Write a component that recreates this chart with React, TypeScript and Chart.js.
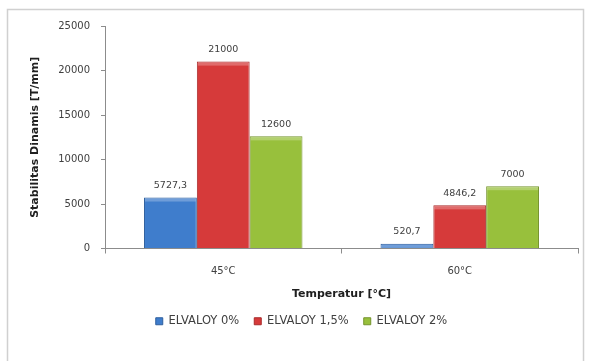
import React, { useEffect, useRef } from "react";
import { Chart, registerables } from "chart.js";

Chart.register(...registerables);

const categories = ["45°C", "60°C"];
const seriesNames = ["ELVALOY 0%", "ELVALOY 1,5%", "ELVALOY 2%"];
const elvaloy0 = [5727.3, 520.7];
const elvaloy15 = [21000, 4846.2];
const elvaloy2 = [12600, 7000];
const yTicks = [0, 5000, 10000, 15000, 20000, 25000];

const fills = ["#3f7dcc", "#d63a3a", "#98c03c"];
const edges = ["#2f5f9e", "#a82a2a", "#74932c"];

const FONT = "'DejaVu Sans', sans-serif";

const fmt = (v: number) => String(v).replace(".", ",");

// Value labels above each bar
const valueLabels = {
  id: "valueLabels",
  afterDatasetsDraw(chart: any) {
    const { ctx } = chart;
    ctx.save();
    ctx.font = `9.5px ${FONT}`;
    ctx.fillStyle = "#404040";
    ctx.textAlign = "center";
    ctx.textBaseline = "middle";
    chart.data.datasets.forEach((ds: any, i: number) => {
      const meta = chart.getDatasetMeta(i);
      meta.data.forEach((bar: any, j: number) => {
        ctx.fillText(fmt(ds.data[j]), bar.x, bar.y - 12);
      });
    });
    ctx.restore();
  },
};

// Light top highlight on the bars
const barShine = {
  id: "barShine",
  afterDatasetsDraw(chart: any) {
    const { ctx } = chart;
    ctx.save();
    chart.data.datasets.forEach((_ds: any, i: number) => {
      const meta = chart.getDatasetMeta(i);
      meta.data.forEach((bar: any) => {
        const w = bar.width;
        const h = bar.base - bar.y;
        if (h < 4) return;
        ctx.fillStyle = "rgba(255,255,255,0.25)";
        ctx.fillRect(bar.x - w / 2 + 1, bar.y + 1, w - 2, 3);
      });
    });
    ctx.restore();
  },
};

// Outer frame of the chart
const frame = {
  id: "frame",
  beforeDraw(chart: any) {
    const { ctx } = chart;
    ctx.save();
    ctx.fillStyle = "#ffffff";
    ctx.fillRect(0, 0, chart.width, chart.height);
    ctx.strokeStyle = "#d0d0d0";
    ctx.lineWidth = 1.5;
    ctx.strokeRect(7.5, 9.5, 576, 360);
    ctx.restore();
  },
};

export default function App() {
  const ref = useRef<HTMLCanvasElement | null>(null);

  useEffect(() => {
    if (!ref.current) return;
    const data = [elvaloy0, elvaloy15, elvaloy2];
    const chart = new Chart(ref.current, {
      type: "bar",
      data: {
        labels: categories,
        datasets: seriesNames.map((name, i) => ({
          label: name,
          data: data[i],
          backgroundColor: fills[i],
          borderColor: edges[i],
          borderWidth: 1,
          barPercentage: 1,
          categoryPercentage: 0.67,
        })),
      },
      options: {
        animation: false,
        responsive: false,
        devicePixelRatio: 1,
        layout: { padding: { left: 25, right: 12, top: 26, bottom: 24 } },
        plugins: {
          legend: {
            position: "bottom",
            labels: {
              boxWidth: 7,
              boxHeight: 7,
              font: { family: FONT, size: 11.5 },
              color: "#404040",
              padding: 15,
            },
          },
          tooltip: { enabled: false },
        },
        scales: {
          x: {
            grid: {
              display: true,
              drawOnChartArea: false,
              offset: true,
              tickLength: 5,
              color: "#8c8c8c",
            },
            border: { color: "#8c8c8c" },
            ticks: { font: { family: FONT, size: 10 }, color: "#404040", padding: 12 },
            title: {
              display: true,
              text: "Temperatur [°C]",
              font: { family: FONT, size: 11, weight: "bold" },
              color: "#202020",
              padding: { top: 1, bottom: 0 },
            },
            afterFit(scale: any) {
              scale.height = 52;
            },
          },
          y: {
            min: 0,
            max: 25000,
            afterBuildTicks(scale: any) {
              scale.ticks = yTicks.map((v) => ({ value: v }));
            },
            grid: {
              display: true,
              drawOnChartArea: false,
              tickLength: 4,
              color: "#8c8c8c",
            },
            border: { color: "#8c8c8c" },
            ticks: {
              font: { family: FONT, size: 10 },
              color: "#404040",
              padding: 11,
              callback: (v: any) => String(v),
            },
            title: {
              display: true,
              text: "Stabilitas Dinamis [T/mm]",
              font: { family: FONT, size: 11, weight: "bold" },
              color: "#202020",
              padding: { top: 4, bottom: 0 },
            },
            afterFit(scale: any) {
              scale.width = 80;
            },
          },
        },
      },
      plugins: [frame, barShine, valueLabels],
    });
    return () => chart.destroy();
  }, []);

  return (
    <div style={{ position: "fixed", left: 0, top: 0, width: 590, height: 361 }}>
      <canvas ref={ref} width={590} height={361} style={{ display: "block" }} />
    </div>
  );
}
